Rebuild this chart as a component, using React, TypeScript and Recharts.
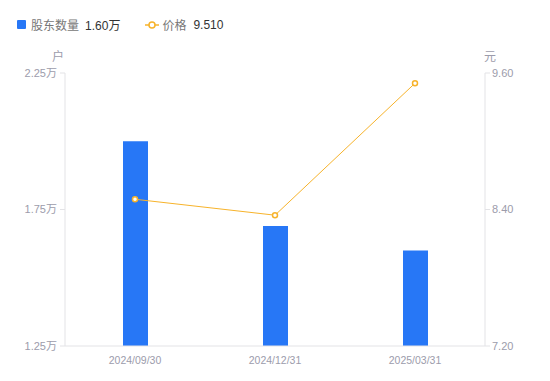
import React from 'react';
import { ComposedChart, Bar, Line, XAxis, YAxis } from 'recharts';

if (typeof document !== 'undefined') document.body.style.margin = '0';

const dates = ['2024/09/30', '2024/12/31', '2025/03/31'];
const holders = [2.0, 1.69, 1.6]; // 万户
const prices = [8.49, 8.35, 9.51];
const holderTicks = [1.25, 1.75, 2.25];
const priceTicks = [7.2, 8.4, 9.6];

const FONT = '"Liberation Sans", "Noto Sans CJK SC", sans-serif';
const BLUE = '#2777f6';
const ORANGE = '#f7b32b';
const AXIS = '#e3e3e6';
const TICK = '#9c9cab';

const data = dates.map((d, i) => ({ date: d, holders: holders[i], price: prices[i] }));

const unitLabel = (text: string, side: 'left' | 'right') => (props: any) => {
  const vb = props.viewBox;
  const x = side === 'left' ? vb.x + vb.width - 7 : vb.x + 5;
  return (
    <text x={x} y={vb.y - 12} textAnchor="middle" fontSize={12} fill={TICK} fontFamily={FONT}>
      {text}
    </text>
  );
};

export default function App() {
  const lastH = holders[holders.length - 1];
  const lastP = prices[prices.length - 1];
  return (
    <div style={{ position: 'relative', width: 550, height: 381, fontFamily: FONT }}>
      <div style={{ position: 'absolute', left: 17, top: 16, fontSize: 12, display: 'flex', alignItems: 'center' }}>
        <span style={{ display: 'inline-block', width: 9, height: 9, background: BLUE, borderRadius: 1, marginRight: 5 }} />
        <span style={{ color: '#777' }}>股东数量</span>
        <span style={{ color: '#333', marginLeft: 6 }}>{lastH.toFixed(2)}万</span>
        <svg width={14} height={10} style={{ marginLeft: 25, marginRight: 3 }}>
          <line x1={0} y1={5} x2={14} y2={5} stroke={ORANGE} strokeWidth={1.5} />
          <circle cx={7} cy={5} r={3} fill="#fff" stroke={ORANGE} strokeWidth={1.5} />
        </svg>
        <span style={{ color: '#777' }}>价格</span>
        <span style={{ color: '#333', marginLeft: 7 }}>{lastP.toFixed(3)}</span>
      </div>
      <ComposedChart
        width={550}
        height={381}
        data={data}
        margin={{ top: 73, right: 0, bottom: 10, left: 0 }}
        style={{ fontFamily: FONT }}
      >
        <XAxis
          dataKey="date"
          axisLine={{ stroke: AXIS }}
          tickLine={false}
          tick={{ fontSize: 10.5, fill: TICK }}
          height={25}
          tickMargin={5}
        />
        <YAxis
          yAxisId="h"
          orientation="left"
          width={65}
          domain={[1.25, 2.25]}
          ticks={holderTicks}
          tickFormatter={(v: number) => `${v.toFixed(2)}万`}
          axisLine={{ stroke: AXIS }}
          tickLine={{ stroke: AXIS }}
          tickSize={5}
          tickMargin={3}
          tick={{ fontSize: 11, fill: TICK }}
          label={unitLabel('户', 'left')}
        />
        <YAxis
          yAxisId="p"
          orientation="right"
          width={65}
          domain={[7.2, 9.6]}
          ticks={priceTicks}
          tickFormatter={(v: number) => v.toFixed(2)}
          axisLine={{ stroke: AXIS }}
          tickLine={{ stroke: AXIS }}
          tickSize={5}
          tickMargin={2}
          tick={{ fontSize: 11, fill: TICK }}
          label={unitLabel('元', 'right')}
        />
        <Bar yAxisId="h" dataKey="holders" fill={BLUE} barSize={25} isAnimationActive={false} />
        <Line
          yAxisId="p"
          dataKey="price"
          type="linear"
          stroke={ORANGE}
          strokeWidth={1}
          dot={{ r: 2.5, fill: '#fff', stroke: ORANGE, strokeWidth: 1.5 }}
          activeDot={false}
          isAnimationActive={false}
        />
      </ComposedChart>
    </div>
  );
}
